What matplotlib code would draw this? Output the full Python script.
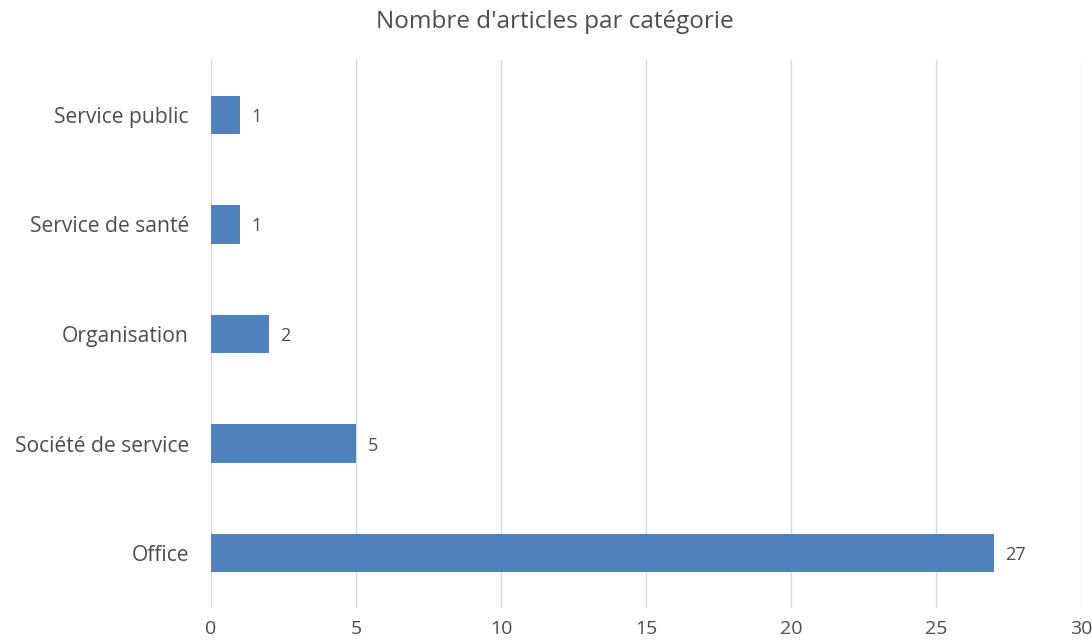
import matplotlib.pyplot as plt

# data
categories = ["Office", "Société de service", "Organisation", "Service de santé", "Service public"]
counts = [27, 5, 2, 1, 1]
x_ticks = [0, 5, 10, 15, 20, 25, 30]

plt.rcParams['font.family'] = ['Open Sans', 'DejaVu Sans']
text_color = "#4d4d4d"

fig = plt.figure(figsize=(10.92, 6.42), dpi=100)
ax = fig.add_axes([0.1932, 0.053, 0.7967, 0.8535])

pos = list(range(len(categories)))
bars = ax.barh(pos, counts, height=0.35, color="#4F81BD", zorder=3)

for p, v in zip(pos, counts):
    ax.text(v + 0.4, p, str(v), va="center_baseline", ha="left", fontsize=13, color=text_color)

ax.set_xlim(0, 30)
ax.set_ylim(-0.5, len(categories) - 0.5)
ax.set_xticks(x_ticks)
ax.set_yticks(pos)
ax.set_yticklabels(categories, fontsize=15.2)
ax.tick_params(axis="both", length=0, colors=text_color)
ax.tick_params(axis="x", labelsize=14)
ax.tick_params(axis="y", pad=16)
ax.tick_params(axis="x", pad=9)

ax.grid(axis="x", color="#D9D9D9", linewidth=1, zorder=0)
for s in ax.spines.values():
    s.set_visible(False)

fig.suptitle("Nombre d'articles par catégorie", x=0.508, y=0.985, fontsize=17.5, color=text_color)

fig.savefig("out.png", dpi=100)
